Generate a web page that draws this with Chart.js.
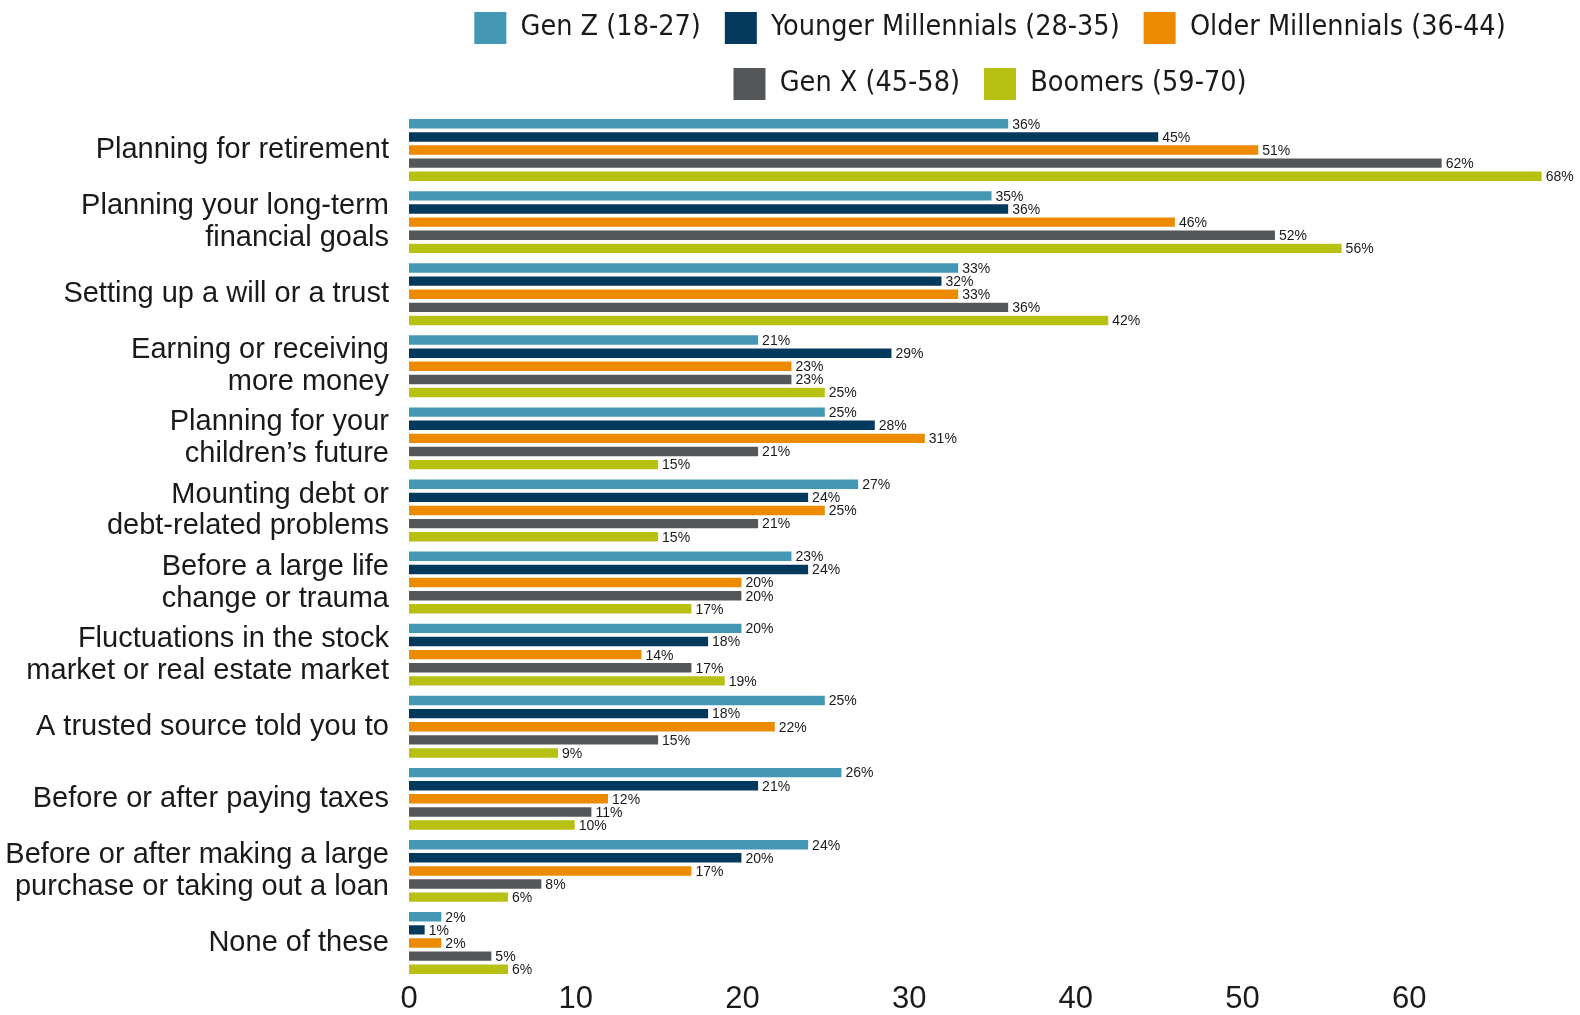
<!DOCTYPE html>
<html>
<head>
<meta charset="utf-8">
<title>When people seek financial advice, by generation</title>
<script src="https://cdn.jsdelivr.net/npm/chart.js@4.4.0/dist/chart.umd.min.js"></script>
<style>
    html, body { margin: 0; padding: 0; background: #fff; overflow: hidden; }
    #wrap { position: relative; top: -12px; width: 1580px; height: 1027px; }
</style>
</head>
<body>
<div id="wrap"><canvas id="adviceChart" width="1580" height="1027"></canvas></div>
<script>
const categories = [
    'Planning for retirement',
    ['Planning your long-term', 'financial goals'],
    'Setting up a will or a trust',
    ['Earning or receiving', 'more money'],
    ['Planning for your', 'children\u2019s future'],
    ['Mounting debt or', 'debt-related problems'],
    ['Before a large life', 'change or trauma'],
    ['Fluctuations in the stock', 'market or real estate market'],
    'A trusted source told you to',
    'Before or after paying taxes',
    ['Before or after making a large', 'purchase or taking out a loan'],
    'None of these',
];

const genZ              = [36, 35, 33, 21, 25, 27, 23, 20, 25, 26, 24, 2];
const youngerMillennial = [45, 36, 32, 29, 28, 24, 24, 18, 18, 21, 20, 1];
const olderMillennial   = [51, 46, 33, 23, 31, 25, 20, 14, 22, 12, 17, 2];
const genX              = [62, 52, 36, 23, 21, 21, 20, 17, 15, 11, 8, 5];
const boomers           = [68, 56, 42, 25, 15, 15, 17, 19, 9, 10, 6, 6];

const xTicks = [0, 10, 20, 30, 40, 50, 60];

const seriesNames = [
    'Gen Z (18-27)',
    'Younger Millennials (28-35)',
    'Older Millennials (36-44)',
    'Gen X (45-58)',
    'Boomers (59-70)',
];
const seriesColors = ['#4397b5', '#04395e', '#ec8b00', '#53575a', '#b8c112'];
const seriesData = [genZ, youngerMillennial, olderMillennial, genX, boomers];

const textColor = '#1a1a1a';
const sans = "'Liberation Sans', Arial, sans-serif";

// percent label just past the end of each bar
const barValueLabels = {
    id: 'barValueLabels',
    afterDatasetsDraw(chart) {
        const ctx = chart.ctx;
        ctx.save();
        ctx.font = '14px ' + sans;
        ctx.fillStyle = textColor;
        ctx.textAlign = 'left';
        ctx.textBaseline = 'middle';
        chart.data.datasets.forEach((ds, i) => {
            chart.getDatasetMeta(i).data.forEach((bar, j) => {
                ctx.fillText(ds.data[j] + '%', bar.x + 3, bar.y + 1);
            });
        });
        ctx.restore();
    }
};

// a little extra room between the legend rows and the bars
const legendGap = {
    id: 'legendGap',
    beforeLayout(chart) {
        const legend = chart.legend;
        if (!legend || legend._gapPatched) return;
        const update = legend.update.bind(legend);
        legend.update = (w, h, m) => {
            update(w, h, m);
            legend.height += 4;
        };
        legend._gapPatched = true;
    }
};

const ctx = document.getElementById('adviceChart').getContext('2d');
const adviceChart = new Chart(ctx, {
    type: 'bar',
    data: {
        labels: categories,
        datasets: seriesNames.map((name, i) => ({
            label: name,
            data: seriesData[i],
            backgroundColor: seriesColors[i],
            borderColor: 'rgba(255, 255, 255, 0.45)',
            borderWidth: 1,
            barPercentage: 0.87,
            categoryPercentage: 0.91,
        })),
    },
    options: {
        indexAxis: 'y',
        responsive: false,
        animation: false,
        layout: { padding: { left: 0, right: 9, top: 0, bottom: 0 } },
        plugins: {
            tooltip: { enabled: false },
            legend: {
                position: 'top',
                align: 'center',
                fullSize: false,
                labels: {
                    boxWidth: 32,
                    boxHeight: 32,
                    padding: 24,
                    color: textColor,
                    font: { family: "'Liberation Sans Narrow', 'DejaVu Sans Condensed', sans-serif", size: 28.5 },
                    generateLabels(chart) {
                        return Chart.defaults.plugins.legend.labels.generateLabels(chart)
                            .map(item => ({ ...item, lineWidth: 0, strokeStyle: item.fillStyle }));
                    },
                },
            },
        },
        scales: {
            x: {
                min: 0,
                max: 69.7,
                grid: { display: false, drawTicks: false },
                border: { display: false },
                afterBuildTicks(scale) {
                    scale.ticks = xTicks.map(v => ({ value: v }));
                },
                afterFit(scale) { scale.height = 29.5; },
                ticks: {
                    padding: 2,
                    color: textColor,
                    font: { family: sans, size: 31 },
                },
            },
            y: {
                grid: { display: false, drawTicks: false },
                border: { display: false },
                afterFit(scale) { scale.width = 409; },
                ticks: {
                    padding: 20,
                    color: textColor,
                    autoSkip: false,
                    font: { family: sans, size: 29, lineHeight: 1.1 },
                },
            },
        },
    },
    plugins: [barValueLabels, legendGap],
});
</script>
</body>
</html>
